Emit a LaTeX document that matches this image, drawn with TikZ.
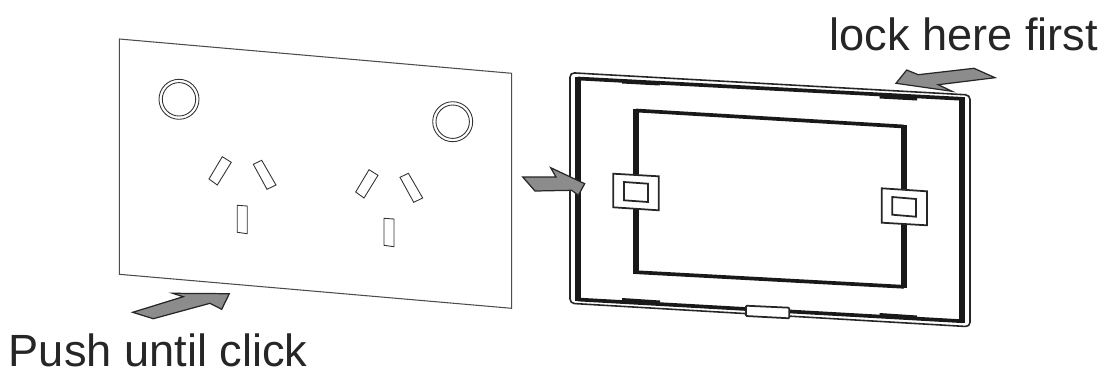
\documentclass[tikz,border=0pt]{standalone}
\usepackage{fontspec}
\setmainfont{Liberation Sans}
\tikzset{
  plate/.style={draw=black!70, line width=0.6pt},
  slot/.style={draw=black!80, line width=0.5pt},
  rim/.style={draw=black!85, line width=0.9pt, rounded corners=2.5pt},
  thickline/.style={draw=black!90, line width=3pt, line join=miter},
  thinthick/.style={draw=black!90, line width=2.1pt},
  clipbox/.style={draw=black!85, line width=1pt, fill=white},
  tabmark/.style={fill=black!90},
  pusharrow/.style={draw=black!85, fill=black!45, line width=0.7pt, line join=miter},
  caption/.style={anchor=base west, inner sep=0pt, font=\fontsize{25.7}{30}\selectfont, text=black!85}
}
\begin{document}
\begin{tikzpicture}[x=0.02cm,y=-0.02cm]
\useasboundingbox (0,0) rectangle (1099,369);
% plate
\draw[plate] (119.3,39) -- (511.7,73.3) -- (511.7,308.3) -- (119.3,274.3) -- cycle;
\foreach \cx/\cy in {179/99.3,452.7/121.7} {
  \draw[slot] (\cx,\cy) circle[radius=20];
  \draw[slot] (\cx,\cy) circle[radius=16.7];
}
\foreach \dx/\dy in {0/0,146.7/13} {
  \begin{scope}[shift={(\dx,\dy)}]
    \draw[slot] (222.3,156.7) -- (231.3,162.3) -- (217.3,185) -- (209,179) -- cycle;
    \draw[slot] (253.3,164.3) -- (261.7,160.3) -- (276,185) -- (267,189.3) -- cycle;
    \draw[slot] (237.3,205.3) -- (247.3,206) -- (247.3,233.7) -- (237.3,232.3) -- cycle;
  \end{scope}
}
% frame
\draw[rim] (570,72.7) -- (970,95) -- (970,326.7) -- (570,303.3) -- cycle;
\draw[thinthick] (578,78.5) -- (962,98.8);
\draw[thinthick] (962,321.2) -- (578,299.5);
\draw[thickline] (578,77) -- (578,301);
\draw[thickline] (962,97.3) -- (962,322.7);
\fill[tabmark] (622,80.5) -- (659.5,82.5) -- (659.5,85.5) -- (622,83.5) -- cycle;
\fill[tabmark] (879.5,95.5) -- (917,97.5) -- (917,100.5) -- (879.5,98.5) -- cycle;
\fill[tabmark] (622,298) -- (660,300.5) -- (660,305) -- (622,303) -- cycle;
\fill[tabmark] (879.5,313) -- (917,315.5) -- (917,320) -- (879.5,317.5) -- cycle;
\draw[clipbox, rounded corners=0.5pt] (746,305.7) -- (789.3,307.7) -- (789.3,318.3) -- (746,316) -- cycle;
% inner opening
\draw[thinthick] (636,110.5) -- (904,126.5);
\draw[thinthick] (904,286.8) -- (636,272.2);
\draw[thickline] (636,109) -- (636,273.7);
\draw[thickline] (904,125) -- (904,288.3);
\draw[clipbox] (613.3,173.7) -- (658.7,176.3) -- (658.7,210.3) -- (613.3,207.3) -- cycle;
\draw[clipbox] (624,182) -- (648,183.7) -- (648,202) -- (624,200.3) -- cycle;
\draw[clipbox] (881.7,188.3) -- (927,191.3) -- (927,225.3) -- (881.7,222.7) -- cycle;
\draw[clipbox] (892.3,197) -- (916,199) -- (916,216.7) -- (892.3,214.7) -- cycle;
% arrows
\draw[pusharrow] (132.7,312.3) -- (183.3,296.7) -- (172.7,293.3) -- (229.3,293.7) -- (221.7,309.3) -- (210,303.3) -- (153.3,318.7) -- cycle;
\draw[pusharrow] (522.7,177) -- (556,177) -- (550.7,167.7) -- (584.7,183.7) -- (578.3,195.3) -- (571.7,190.3) -- (535,191) -- cycle;
\draw[pusharrow] (896,83.3) -- (906.7,70) -- (918.3,74.7) -- (974,68.3) -- (995,77.7) -- (938.3,84.7) -- (952,91.3) -- cycle;
% labels
\node[caption] (lockfirst) at (829,50) {lock here first};
\node[caption] (pushclick) at (8.5,366.5) {Push until click};
\end{tikzpicture}
\end{document}
